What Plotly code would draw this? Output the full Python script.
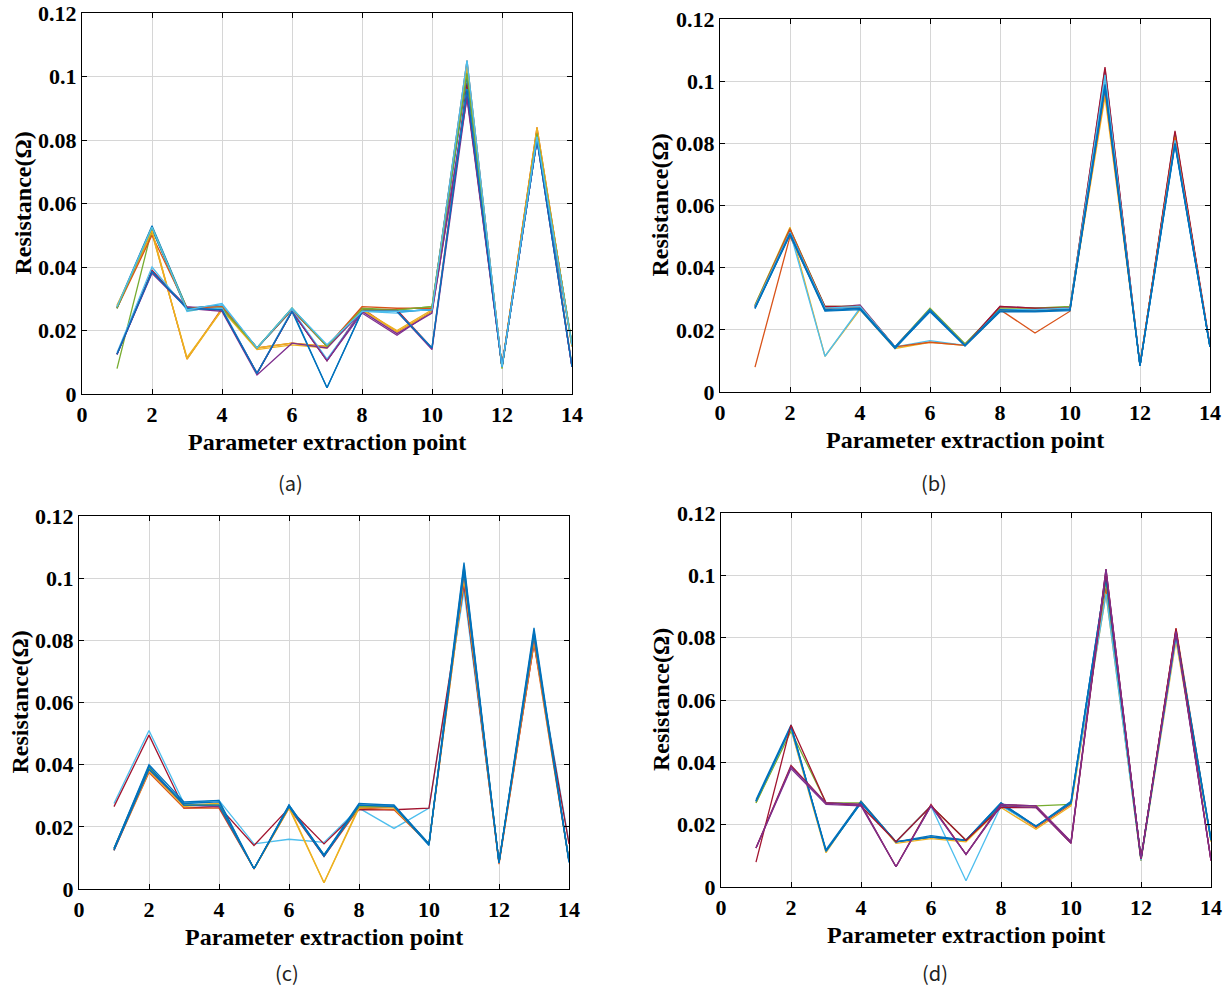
import plotly.graph_objects as go

# ---------------- data ----------------
x_points = list(range(1, 15))

y_tick_vals = [0, 0.02, 0.04, 0.06, 0.08, 0.1, 0.12]
y_tick_text = ["0", "0.02", "0.04", "0.06", "0.08", "0.1", "0.12"]
x_tick_vals = [0, 2, 4, 6, 8, 10, 12, 14]
x_tick_text = ["0", "2", "4", "6", "8", "10", "12", "14"]

panel_labels = ["(a)", "(b)", "(c)", "(d)"]
x_title = "Parameter extraction point"
y_title = "Resistance(Ω)"

# panel (a)
series_a = [
    [0.0275, 0.0530, 0.0270, 0.0280, 0.0145, 0.0265, 0.0150, 0.0265, 0.0260, 0.0265, 0.1020, 0.0085, 0.0810, 0.0155],
    [0.0275, 0.0510, 0.0110, 0.0270, 0.0145, 0.0160, 0.0150, 0.0270, 0.0195, 0.0260, 0.1050, 0.0085, 0.0840, 0.0150],
    [0.0280, 0.0505, 0.0115, 0.0265, 0.0140, 0.0155, 0.0145, 0.0265, 0.0200, 0.0265, 0.0940, 0.0090, 0.0830, 0.0090],
    [0.0125, 0.0385, 0.0275, 0.0265, 0.0065, 0.0260, 0.0105, 0.0255, 0.0185, 0.0260, 0.0930, 0.0085, 0.0800, 0.0085],
    [0.0080, 0.0520, 0.0270, 0.0275, 0.0145, 0.0270, 0.0150, 0.0270, 0.0265, 0.0275, 0.1030, 0.0085, 0.0820, 0.0160],
    [0.0270, 0.0525, 0.0260, 0.0280, 0.0145, 0.0270, 0.0150, 0.0260, 0.0255, 0.0270, 0.1050, 0.0085, 0.0800, 0.0155],
    [0.0125, 0.0390, 0.0270, 0.0265, 0.0065, 0.0260, 0.0105, 0.0265, 0.0265, 0.0145, 0.0980, 0.0085, 0.0830, 0.0085],
    [0.0270, 0.0520, 0.0265, 0.0270, 0.0145, 0.0265, 0.0020, 0.0260, 0.0260, 0.0265, 0.1000, 0.0085, 0.0800, 0.0150],
    [0.0270, 0.0500, 0.0270, 0.0275, 0.0145, 0.0265, 0.0150, 0.0275, 0.0270, 0.0270, 0.1040, 0.0085, 0.0830, 0.0155],
    [0.0275, 0.0515, 0.0110, 0.0265, 0.0145, 0.0160, 0.0150, 0.0265, 0.0195, 0.0260, 0.1030, 0.0085, 0.0840, 0.0150],
    [0.0125, 0.0380, 0.0270, 0.0260, 0.0060, 0.0160, 0.0145, 0.0260, 0.0190, 0.0255, 0.0950, 0.0085, 0.0810, 0.0085],
    [0.0270, 0.0525, 0.0265, 0.0270, 0.0145, 0.0270, 0.0150, 0.0265, 0.0265, 0.0275, 0.1010, 0.0080, 0.0820, 0.0155],
    [0.0130, 0.0400, 0.0265, 0.0270, 0.0065, 0.0265, 0.0110, 0.0260, 0.0260, 0.0145, 0.0960, 0.0085, 0.0810, 0.0090],
    [0.0125, 0.0385, 0.0270, 0.0265, 0.0065, 0.0260, 0.0105, 0.0260, 0.0260, 0.0140, 0.0940, 0.0085, 0.0800, 0.0085],
    [0.0125, 0.0385, 0.0270, 0.0265, 0.0065, 0.0260, 0.0020, 0.0260, 0.0260, 0.0145, 0.0960, 0.0085, 0.0800, 0.0085],
    [0.0275, 0.0525, 0.0265, 0.0285, 0.0145, 0.0270, 0.0155, 0.0260, 0.0260, 0.0265, 0.1050, 0.0085, 0.0810, 0.0155],
]
colors_a = ["blue", "orange", "yellow", "purple", "green", "cyan", "darkred", "blue",
            "orange", "yellow", "purple", "green", "cyan", "purple", "blue", "cyan"]

# panel (b)
series_b = [
    [0.0080, 0.0500, 0.0270, 0.0275, 0.0145, 0.0265, 0.0150, 0.0265, 0.0190, 0.0260, 0.1030, 0.0085, 0.0830, 0.0145],
    [0.0280, 0.0530, 0.0115, 0.0265, 0.0140, 0.0160, 0.0150, 0.0260, 0.0265, 0.0270, 0.0950, 0.0090, 0.0820, 0.0145],
    [0.0275, 0.0520, 0.0270, 0.0280, 0.0145, 0.0265, 0.0150, 0.0275, 0.0270, 0.0270, 0.1040, 0.0085, 0.0835, 0.0145],
    [0.0280, 0.0525, 0.0275, 0.0275, 0.0145, 0.0270, 0.0155, 0.0270, 0.0270, 0.0275, 0.1020, 0.0085, 0.0830, 0.0145],
    [0.0275, 0.0515, 0.0115, 0.0270, 0.0145, 0.0165, 0.0150, 0.0265, 0.0265, 0.0270, 0.1010, 0.0085, 0.0810, 0.0145],
    [0.0275, 0.0520, 0.0275, 0.0275, 0.0145, 0.0265, 0.0150, 0.0275, 0.0270, 0.0270, 0.1045, 0.0085, 0.0840, 0.0150],
    [0.0275, 0.0525, 0.0270, 0.0275, 0.0145, 0.0160, 0.0150, 0.0260, 0.0260, 0.0270, 0.0970, 0.0090, 0.0820, 0.0145],
    [0.0275, 0.0515, 0.0270, 0.0275, 0.0145, 0.0265, 0.0150, 0.0265, 0.0265, 0.0270, 0.1020, 0.0085, 0.0810, 0.0145],
    [0.0270, 0.0510, 0.0265, 0.0270, 0.0145, 0.0265, 0.0150, 0.0265, 0.0260, 0.0265, 0.0980, 0.0085, 0.0800, 0.0145],
    [0.0270, 0.0505, 0.0260, 0.0265, 0.0140, 0.0260, 0.0150, 0.0260, 0.0260, 0.0265, 0.0990, 0.0085, 0.0800, 0.0145],
    [0.0268, 0.0508, 0.0262, 0.0268, 0.0142, 0.0258, 0.0148, 0.0258, 0.0258, 0.0262, 0.0985, 0.0085, 0.0795, 0.0145],
]
colors_b = ["orange", "yellow", "purple", "green", "cyan", "darkred", "orange",
            "cyan", "blue", "blue", "blue"]

# panel (c)
series_c = [
    [0.0275, 0.0510, 0.0275, 0.0285, 0.0145, 0.0160, 0.0150, 0.0260, 0.0195, 0.0260, 0.0960, 0.0090, 0.0800, 0.0150],
    [0.0265, 0.0495, 0.0260, 0.0265, 0.0140, 0.0260, 0.0145, 0.0255, 0.0255, 0.0260, 0.0980, 0.0085, 0.0790, 0.0145],
    [0.0125, 0.0375, 0.0260, 0.0260, 0.0065, 0.0260, 0.0105, 0.0260, 0.0255, 0.0145, 0.1000, 0.0080, 0.0790, 0.0090],
    [0.0130, 0.0390, 0.0270, 0.0275, 0.0065, 0.0260, 0.0020, 0.0260, 0.0265, 0.0145, 0.1030, 0.0085, 0.0820, 0.0090],
    [0.0125, 0.0380, 0.0265, 0.0275, 0.0065, 0.0265, 0.0020, 0.0265, 0.0260, 0.0145, 0.1000, 0.0085, 0.0800, 0.0090],
    [0.0125, 0.0385, 0.0270, 0.0265, 0.0065, 0.0265, 0.0105, 0.0265, 0.0265, 0.0145, 0.1020, 0.0085, 0.0810, 0.0090],
    [0.0130, 0.0390, 0.0270, 0.0270, 0.0065, 0.0265, 0.0110, 0.0265, 0.0265, 0.0145, 0.1030, 0.0085, 0.0820, 0.0090],
    [0.0130, 0.0400, 0.0280, 0.0285, 0.0065, 0.0270, 0.0110, 0.0275, 0.0270, 0.0145, 0.1050, 0.0085, 0.0840, 0.0090],
    [0.0125, 0.0385, 0.0275, 0.0280, 0.0065, 0.0265, 0.0105, 0.0270, 0.0265, 0.0140, 0.1040, 0.0085, 0.0830, 0.0085],
    [0.0130, 0.0395, 0.0270, 0.0270, 0.0065, 0.0270, 0.0110, 0.0270, 0.0270, 0.0145, 0.1020, 0.0085, 0.0820, 0.0090],
]
colors_c = ["cyan", "darkred", "orange", "yellow", "yellow", "purple", "green",
            "blue", "blue", "blue"]

# panel (d)
series_d = [
    [0.0275, 0.0510, 0.0115, 0.0275, 0.0145, 0.0160, 0.0150, 0.0265, 0.0190, 0.0265, 0.0960, 0.0085, 0.0830, 0.0150],
    [0.0270, 0.0505, 0.0110, 0.0275, 0.0140, 0.0155, 0.0145, 0.0255, 0.0185, 0.0260, 0.0940, 0.0085, 0.0790, 0.0145],
    [0.0270, 0.0500, 0.0270, 0.0270, 0.0145, 0.0260, 0.0150, 0.0260, 0.0260, 0.0265, 0.0980, 0.0085, 0.0810, 0.0150],
    [0.0275, 0.0510, 0.0115, 0.0270, 0.0145, 0.0260, 0.0020, 0.0260, 0.0195, 0.0270, 0.0940, 0.0085, 0.0800, 0.0150],
    [0.0275, 0.0515, 0.0115, 0.0270, 0.0145, 0.0160, 0.0150, 0.0265, 0.0195, 0.0270, 0.1000, 0.0090, 0.0820, 0.0150],
    [0.0280, 0.0520, 0.0115, 0.0270, 0.0145, 0.0160, 0.0150, 0.0270, 0.0195, 0.0270, 0.1000, 0.0090, 0.0820, 0.0155],
    [0.0275, 0.0515, 0.0120, 0.0275, 0.0145, 0.0165, 0.0150, 0.0270, 0.0195, 0.0275, 0.0990, 0.0090, 0.0810, 0.0150],
    [0.0080, 0.0520, 0.0270, 0.0260, 0.0145, 0.0260, 0.0150, 0.0255, 0.0255, 0.0140, 0.1010, 0.0090, 0.0830, 0.0085],
    [0.0125, 0.0380, 0.0265, 0.0260, 0.0065, 0.0260, 0.0105, 0.0260, 0.0255, 0.0140, 0.1015, 0.0090, 0.0815, 0.0085],
    [0.0125, 0.0390, 0.0270, 0.0265, 0.0065, 0.0265, 0.0105, 0.0265, 0.0260, 0.0145, 0.1020, 0.0090, 0.0825, 0.0085],
    [0.0125, 0.0385, 0.0270, 0.0265, 0.0065, 0.0260, 0.0105, 0.0265, 0.0260, 0.0145, 0.1020, 0.0090, 0.0820, 0.0085],
]
colors_d = ["orange", "yellow", "green", "cyan", "blue", "blue", "blue",
            "darkred", "purple", "darkred", "purple"]

# ---------------- style ----------------
palette = {
    "blue": "#0072BD", "orange": "#D95319", "yellow": "#EDB120",
    "purple": "#7E2F8E", "green": "#77AC30", "cyan": "#4DBEEE",
    "darkred": "#A2142F",
}
W, H = 1232, 989
# pixel boxes of each axes: (left, right, top, bottom)
boxes = [(82, 572, 13, 394), (720, 1210, 19, 392),
         (79, 569, 516, 889), (721, 1211, 513, 887)]
caption_y = [482, 482, 972, 972]
serif = "Liberation Serif"

fig = go.Figure()
panels = [(series_a, colors_a), (series_b, colors_b),
          (series_c, colors_c), (series_d, colors_d)]

annotations = []
layout_axes = {}
for i, ((series, cols), (l, r, t, b)) in enumerate(zip(panels, boxes)):
    suffix = "" if i == 0 else str(i + 1)
    for s, c in zip(series, cols):
        fig.add_trace(go.Scatter(
            x=x_points, y=s, mode="lines",
            line=dict(color=palette[c], width=1.3),
            xaxis="x" + suffix, yaxis="y" + suffix,
            showlegend=False, hoverinfo="skip"))
    common = dict(
        showline=True, linecolor="black", linewidth=1.3, mirror="ticks",
        ticks="inside", ticklen=5, tickwidth=1.2, tickcolor="black",
        showgrid=True, gridcolor="#d6d6d6", gridwidth=1, zeroline=False,
        automargin=False,
        tickfont=dict(family=serif, size=22, color="black", weight="bold"),
    )
    layout_axes["xaxis" + suffix] = dict(
        common, domain=[l / W, r / W], range=[0, 14],
        tickvals=x_tick_vals, ticktext=x_tick_text,
        anchor="y" + suffix)
    layout_axes["yaxis" + suffix] = dict(
        common, domain=[1 - b / H, 1 - t / H], range=[0, 0.12],
        tickvals=y_tick_vals, ticktext=y_tick_text,
        anchor="x" + suffix)
    cx = (l + r) / 2
    cy = (t + b) / 2
    annotations.append(dict(
        text=x_title, x=cx / W, y=1 - (b + 48) / H, xref="paper", yref="paper",
        showarrow=False, xanchor="center", yanchor="middle",
        font=dict(family=serif, size=24, color="black", weight="bold")))
    annotations.append(dict(
        text=y_title, x=(l - 60) / W, y=1 - cy / H, xref="paper", yref="paper",
        showarrow=False, xanchor="center", yanchor="middle", textangle=-90,
        font=dict(family=serif, size=24, color="black", weight="bold")))
    annotations.append(dict(
        text=panel_labels[i], x=(cx - 37 if i % 2 == 0 else cx - 31) / W,
        y=1 - caption_y[i] / H, xref="paper", yref="paper",
        showarrow=False, xanchor="center", yanchor="middle",
        font=dict(family="Noto Sans CJK KR", size=20, color="#222222")))

fig.update_layout(
    width=W, height=H, margin=dict(l=0, r=0, t=0, b=0, autoexpand=False),
    paper_bgcolor="white", plot_bgcolor="white",
    annotations=annotations, **layout_axes)

fig.write_html("out.html")
